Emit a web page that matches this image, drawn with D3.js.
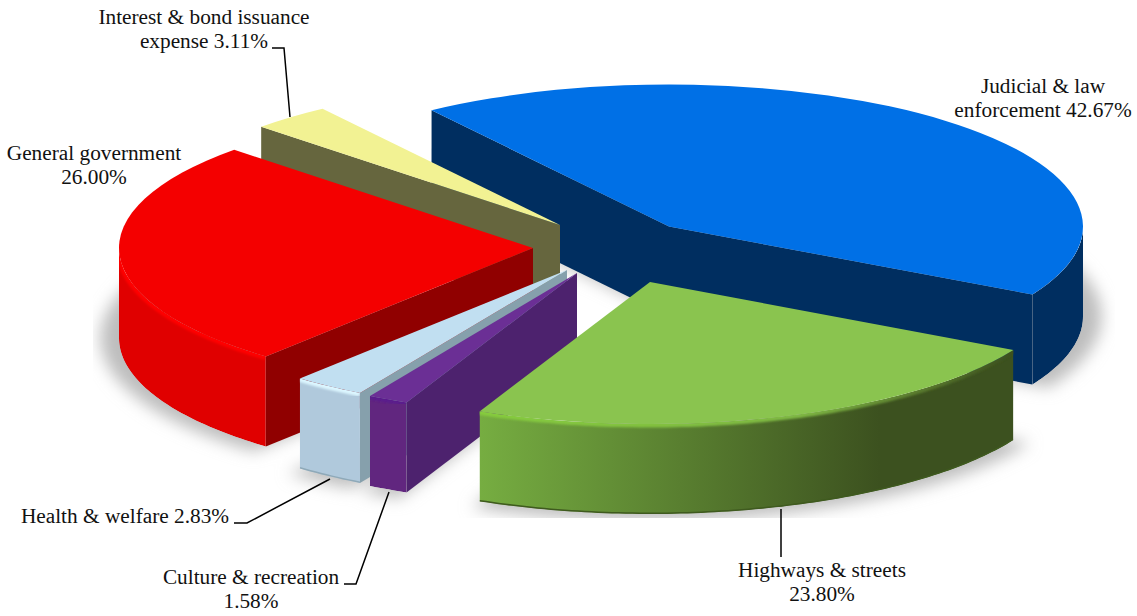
<!DOCTYPE html>
<html>
<head>
<meta charset="utf-8">
<script src="https://cdn.jsdelivr.net/npm/d3@7"></script>
<style>
html, body { margin: 0; padding: 0; background: #fff; }
text { font-family: "Liberation Serif", serif; font-size: 21.3px; fill: #111; }
</style>
</head>
<body>
<script>
////// data, clockwise in the order the slices sit in the pie
const categories = ["Judicial & law enforcement", "Highways & streets", "Culture & recreation",
    "Health & welfare", "General government", "Interest & bond issuance expense"];
const shares = [42.67, 23.80, 1.58, 2.83, 26.00, 3.11];

////// colours per slice
const topColors = ["#0070e6", "#8ac44f", "#6b2f95", "#c1dff1", "#f40000", "#f2f293"];
const wallColors = ["#002e60", "url(#greenWall)", "#61267f", "#b0c9dc", "#e00000", "#66663e"];
const cutColors = ["#002e60", "#3c511f", "#4d226e", "#86a0ac", "#900000", "#66663e"];
const bevelColors = ["none", "url(#greenBevel)", "#5a1f8c", "#dcf6ff", "#ff0000", "none"];

////// layout: where each exploded slice has its tip, and the pie's shape
const tipX = [669, 650, 577, 567, 533, 560];
const tipY = [226.5, 282, 273, 270, 248, 225];
const rx = 414, ry = 142, depth = 90;
const startDeg = -35;
const drawOrder = [0, 5, 4, 3, 2, 1];   // back to front

// label lines and their anchors: [text lines, x centre, first baseline]
const labelLines = [
    [`Judicial & law`, `enforcement ${shares[0].toFixed(2)}%`],
    [`Highways & streets`, `${shares[1].toFixed(2)}%`],
    [`Culture & recreation`, `${shares[2].toFixed(2)}%`],
    [`Health & welfare ${shares[3].toFixed(2)}%`],
    [`General government`, `${shares[4].toFixed(2)}%`],
    [`Interest & bond issuance`, `expense ${shares[5].toFixed(2)}%`]
];
const labelX = [1043, 822, 251, 125, 94, 204];
const labelY = [93, 577, 584, 523, 160, 24];
const lineGap = 24;
const leaders = [
    null,
    [[781, 509], [781, 557]],
    [[344, 584], [356, 584], [389, 492]],
    [[234, 523], [247, 523], [330, 479]],
    null,
    [[272, 48], [284, 48], [290, 117]]
];

const svg = d3.select("body").append("svg")
    .attr("width", 1137)
    .attr("height", 616)
    .style("display", "block");

const defs = svg.append("defs");
defs.append("filter").attr("id", "shadowBlur")
    .attr("x", "-20%").attr("y", "-20%").attr("width", "140%").attr("height", "140%")
    .append("feGaussianBlur").attr("stdDeviation", 8);
defs.append("filter").attr("id", "bevelBlur")
    .attr("x", "-5%").attr("y", "-20%").attr("width", "110%").attr("height", "140%")
    .append("feGaussianBlur").attr("stdDeviation", 0.8);
defs.append("clipPath").attr("id", "shadowClip")
    .append("rect").attr("x", 93).attr("y", 60).attr("width", 1022).attr("height", 458);

function hGradient(id, x1, x2, stops) {
    const g = defs.append("linearGradient").attr("id", id)
        .attr("gradientUnits", "userSpaceOnUse")
        .attr("x1", x1).attr("x2", x2).attr("y1", 0).attr("y2", 0);
    stops.forEach(s => g.append("stop").attr("offset", s[0]).attr("stop-color", s[1]));
}
hGradient("greenWall", 480, 880, [[0, "#76ad41"], [1, "#3c511f"]]);
hGradient("greenBevel", 480, 1010, [[0, "#86cc3e"], [0.6, "#7fb844"], [0.85, "#56752c"], [1, "#3c511f"]]);

const pie = d3.pie().sort(null)
    .startAngle(startDeg * Math.PI / 180)
    .endAngle((startDeg + 360) * Math.PI / 180);
const slices = pie(shares);

// d3.arc angles run clockwise from 12 o'clock, flattened with a y scale
const arc = d3.arc().innerRadius(0).outerRadius(rx);
const shadowArc = d3.arc().innerRadius(0).outerRadius(rx * 1.045);
const k = ry / rx;
const px = (i, a) => tipX[i] + rx * Math.sin(a);
const py = (i, a) => tipY[i] - ry * Math.cos(a);
const line = d3.line();

function sample(a0, a1) {
    const n = Math.max(2, Math.ceil((a1 - a0) * 60));
    return d3.range(n + 1).map(j => a0 + (a1 - a0) * j / n);
}

// soft shadow under the slices
const shadow = svg.append("g").attr("clip-path", "url(#shadowClip)")
    .append("g").attr("filter", "url(#shadowBlur)");
slices.forEach((s, i) => {
    shadow.append("path")
        .attr("d", shadowArc(s))
        .attr("transform", `translate(${tipX[i]},${tipY[i] + depth}) scale(1,${k})`)
        .attr("fill", "#bdbdbd");
});

drawOrder.forEach(i => {
    const s = slices[i];
    const g = svg.append("g");

    // cut walls, only the ones turned towards the viewer
    [[s.startAngle, Math.sin(s.startAngle) < 0], [s.endAngle, Math.sin(s.endAngle) > 0]]
        .filter(d => d[1])
        .forEach(d => {
            const x = px(i, d[0]), y = py(i, d[0]);
            g.append("path")
                .attr("d", line([[tipX[i], tipY[i]], [x, y], [x, y + depth], [tipX[i], tipY[i] + depth]]) + "Z")
                .attr("fill", cutColors[i]);
        });

    // outer wall, front half of the rim only
    const a0 = Math.max(s.startAngle, Math.PI / 2);
    const a1 = Math.min(s.endAngle, Math.PI * 1.5);
    if (a1 > a0) {
        const rim = sample(a0, a1);
        const top = rim.map(a => [px(i, a), py(i, a)]);
        const bottom = rim.map(a => [px(i, a), py(i, a) + depth]).reverse();
        const wall = g.append("g");
        const clipId = `wallClip${i}`;
        defs.append("clipPath").attr("id", clipId)
            .append("path").attr("d", line(top.concat(bottom)) + "Z");
        wall.attr("clip-path", `url(#${clipId})`);
        wall.append("path").attr("d", line(top.concat(bottom)) + "Z").attr("fill", wallColors[i]);
        wall.append("path").attr("d", line(bottom))
            .attr("fill", "none")
            .attr("stroke", i == 1 ? "#3f5a1f" : i == 3 ? "#8fa9b8" : "none")
            .attr("stroke-width", 3);
        wall.append("path").attr("d", line(top))
            .attr("fill", "none")
            .attr("stroke", bevelColors[i])
            .attr("stroke-width", 7)
            .attr("filter", "url(#bevelBlur)");
    }

    // top face
    g.append("path")
        .attr("d", arc(s))
        .attr("transform", `translate(${tipX[i]},${tipY[i]}) scale(1,${k})`)
        .attr("fill", topColors[i]);
});

// leader lines
leaders.filter(d => d).forEach(d => {
    svg.append("path").attr("d", line(d))
        .attr("fill", "none")
        .attr("stroke", "#000")
        .attr("stroke-width", 1.5);
});

// labels
labelLines.forEach((lines, i) => {
    lines.forEach((t, j) => {
        svg.append("text")
            .attr("x", labelX[i])
            .attr("y", labelY[i] + j * lineGap)
            .attr("text-anchor", "middle")
            .text(t);
    });
});
</script>
</body>
</html>
